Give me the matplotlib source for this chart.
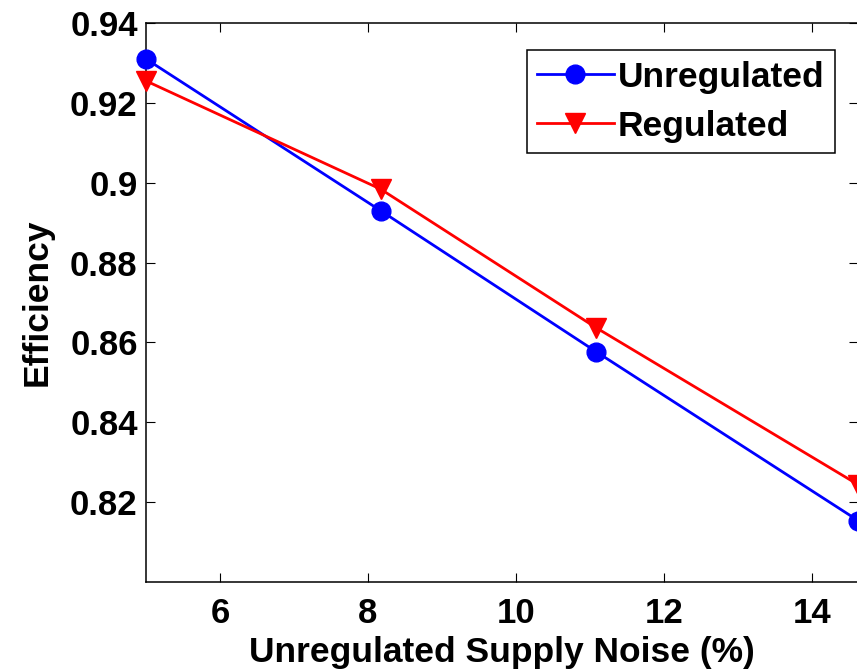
import numpy as np
import matplotlib.pyplot as plt

plt.rcParams['font.family'] = ['Liberation Sans', 'DejaVu Sans']
plt.rcParams['font.weight'] = 'bold'

noise = [5.0, 8.17, 11.08, 14.62]
unregulated = [0.931, 0.893, 0.8577, 0.8154]
regulated = [0.9255, 0.8984, 0.8637, 0.8244]

xticks = [6, 8, 10, 12, 14]
yticks = [0.82, 0.84, 0.86, 0.88, 0.9, 0.92, 0.94]
yticklabels = ['0.82', '0.84', '0.86', '0.88', '0.9', '0.92', '0.94']

fig = plt.figure(figsize=(8.57, 6.7), dpi=100)
ax = fig.add_axes([146/857, 1 - 582/670, (858 - 146)/857, (582 - 23)/670])

ax.plot(noise, unregulated, color='blue', lw=2, marker='o', ms=13.5,
        label='Unregulated', clip_on=False, zorder=3)
ax.plot(noise, regulated, color='red', lw=2, marker='v', ms=15,
        label='Regulated', clip_on=False, zorder=3)

ax.set_xlim(5, 14.62)
ax.set_ylim(0.80, 0.94)
ax.set_xticks(xticks)
ax.set_yticks(yticks)
ax.set_yticklabels(yticklabels)
ax.tick_params(direction='in', length=6.5, width=0.8, top=True, right=True,
               labelsize=25, pad=6)
ax.tick_params(axis='x', pad=11)
for s in ax.spines.values():
    s.set_linewidth(1.1)

ax.set_xlabel('Unregulated Supply Noise (%)', fontsize=25.5, fontweight='bold', labelpad=4)
ax.set_ylabel('Efficiency', fontsize=25.5, fontweight='bold', labelpad=12)

leg = ax.legend(loc='upper right', bbox_to_anchor=(835/857, 1 - 50/670),
                bbox_transform=fig.transFigure, borderaxespad=0,
                fontsize=25.5, handlelength=2.15, handletextpad=0.12,
                borderpad=0.3, labelspacing=0.45, fancybox=False,
                edgecolor='black', framealpha=1)
leg.get_frame().set_linewidth(1.1)

plt.savefig('out.png', dpi=100)
